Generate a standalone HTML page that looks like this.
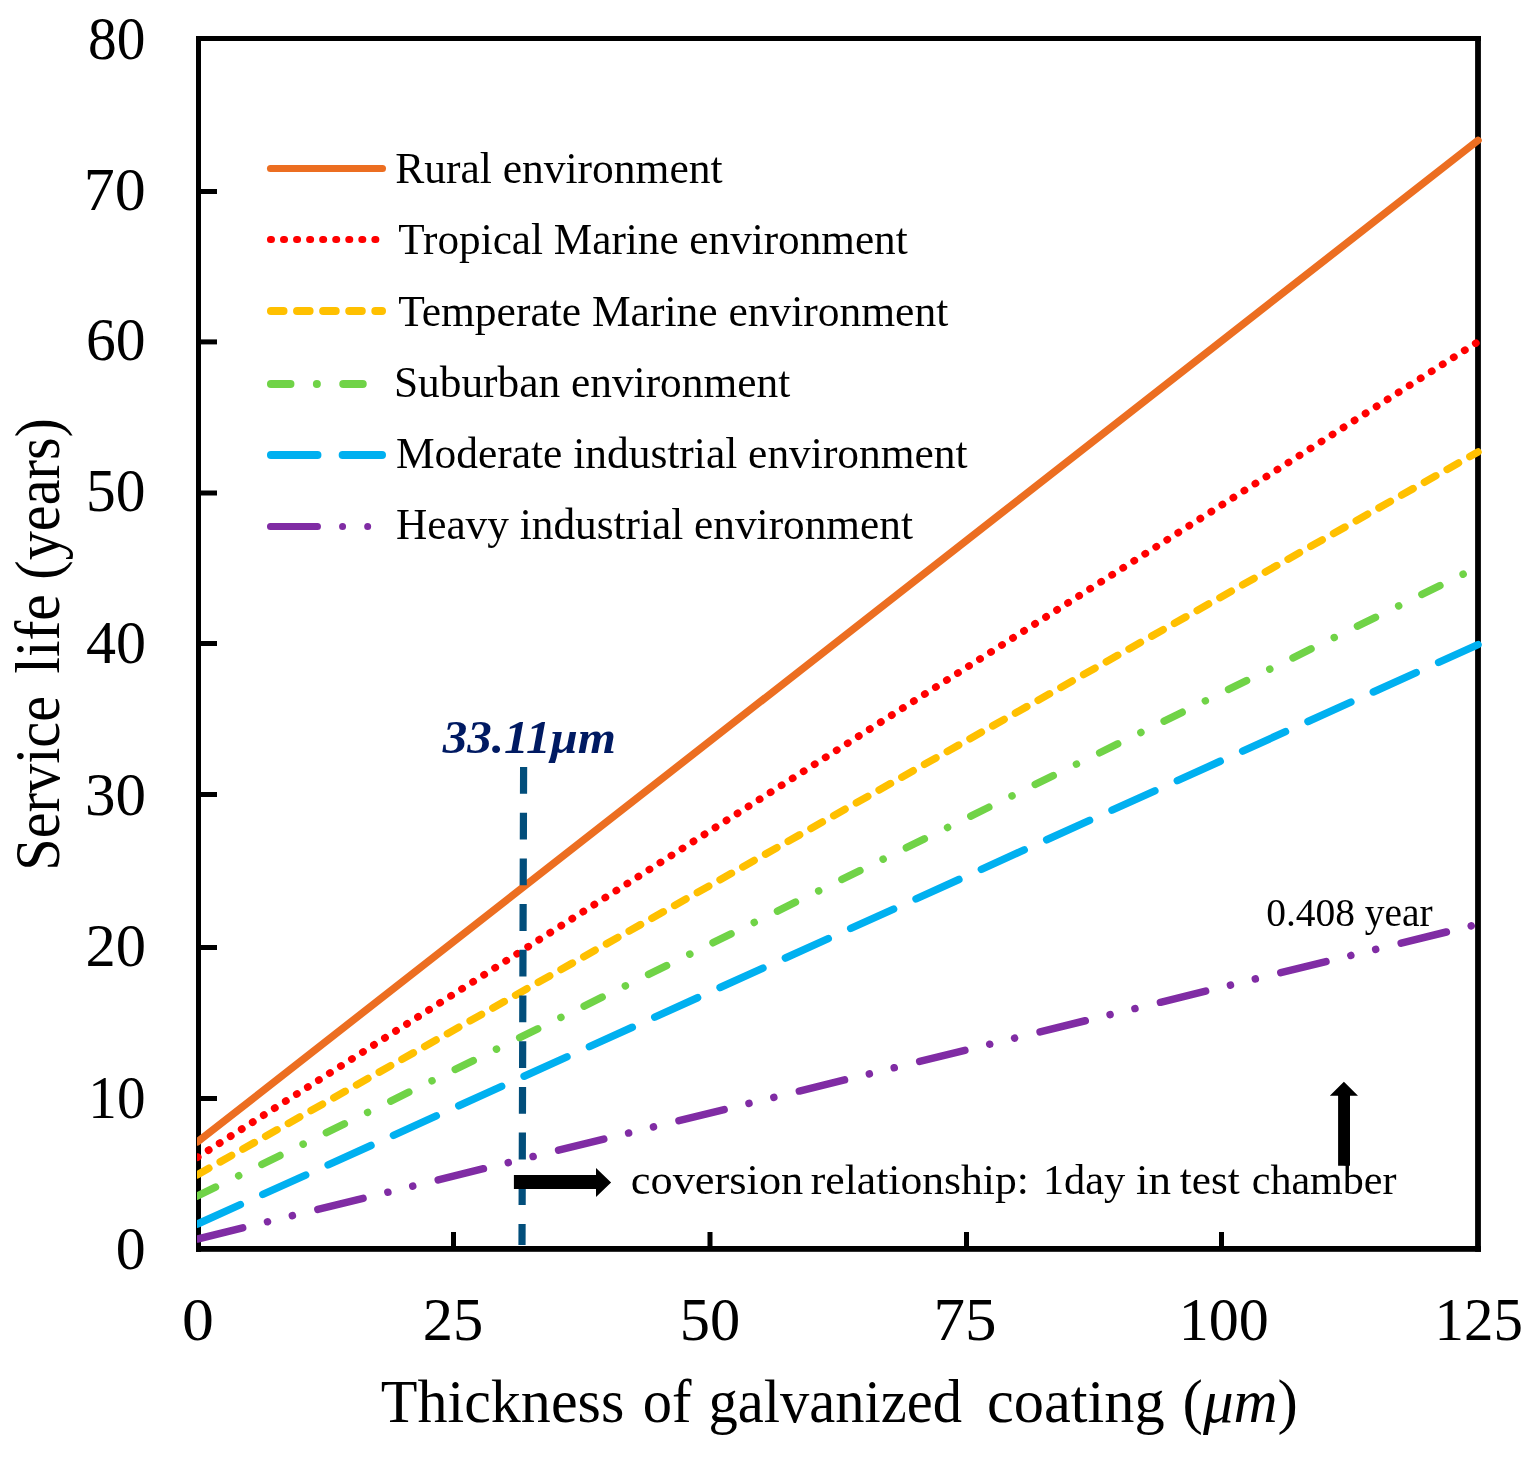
<!DOCTYPE html>
<html><head><meta charset="utf-8"><title>Service life vs galvanized coating thickness</title>
<style>html,body{margin:0;padding:0;background:#fff;}svg{display:block;}
text{font-family:'Liberation Serif','Times New Roman',serif;}</style></head><body>
<svg width="1532" height="1458" viewBox="0 0 1532 1458">
<rect x="0" y="0" width="1532" height="1458" fill="#fff"/>
<defs><clipPath id="pa"><rect x="197" y="0" width="1335" height="1458"/></clipPath></defs>
<g fill="#000">
<rect x="196" y="36" width="1285" height="5"/>
<rect x="196" y="1246" width="1285" height="5.8"/>
<rect x="196" y="36" width="5" height="1215.8"/>
<rect x="1475.1" y="36" width="5.8" height="1215.8"/>
<rect x="201" y="1096" width="16" height="5"/>
<rect x="201" y="945" width="16" height="5"/>
<rect x="201" y="792" width="16" height="5"/>
<rect x="201" y="641" width="16" height="5"/>
<rect x="201" y="490.5" width="16" height="5"/>
<rect x="201" y="339.4" width="16" height="5"/>
<rect x="201" y="189" width="16" height="5"/>
<rect x="451" y="1232" width="5" height="14"/>
<rect x="707.5" y="1232" width="5" height="14"/>
<rect x="964" y="1232" width="5" height="14"/>
<rect x="1219" y="1232" width="5" height="14"/>
</g>
<g clip-path="url(#pa)" fill="none" stroke-width="7.5" stroke-linecap="round" stroke-linejoin="round">
<path d="M197.5 1141.9L1478 140.4" stroke="#EC6E21"/>
<path d="M197.5 1157.3L1478 341.8" stroke="#FF0000" stroke-dasharray="0.4 12.663"/>
<path d="M197.5 1174.7L1478 452" stroke="#FFC000" stroke-dasharray="13.05 13.04"/>
<path d="M197.5 1196L1478 566.9" stroke="#70D347" stroke-dasharray="20 25.9 0.001 25.9"/>
<path d="M197.5 1224L1478 644.6" stroke="#00B0F0" stroke-dasharray="47 24.7"/>
<path d="M197.5 1239L1478 924.2" stroke="#802CA4" stroke-dasharray="46.5 25.6 0.001 25.6 0.001 26.25"/>
</g>
<g fill="none" stroke-linecap="round">
<path d="M270.46 168.4H382.5" stroke="#EC6E21" stroke-width="7.0"/>
<path d="M270.46 239.4H380" stroke="#FF0000" stroke-width="7.0" stroke-dasharray="1 12.05"/>
<path d="M270.96 310.9H382" stroke="#FFC000" stroke-width="8.0" stroke-dasharray="12.55 13.54"/>
<path d="M270.96 383.9H382" stroke="#70D347" stroke-width="8.0" stroke-dasharray="19.5 26.4 0.001 26.4"/>
<path d="M270.96 454.9H382" stroke="#00B0F0" stroke-width="8.0" stroke-dasharray="46.5 25.2"/>
<path d="M270.46 526.4H382.5" stroke="#802CA4" stroke-width="7.0" stroke-dasharray="47 25.1 0.001 25.1 0.001 25.75"/>
</g>
<path d="M523.6 767L522 1245" stroke="#024E7B" stroke-width="7.2" stroke-dasharray="26.8 18.9" fill="none"/>
<path d="M513.9 1175H596V1167.9L611.1 1182.6L596 1197.1V1188.9H513.9Z" fill="#000"/>
<path d="M1343.9 1081.7L1358 1095.8H1350V1165.8H1338.1V1095.8H1329.8Z" fill="#000"/>
<text transform="translate(88.03 58.6) scale(0.9328 1)" font-size="61.5" fill="#000">80</text>
<text transform="translate(83.67 209.5) scale(1.0071 1)" font-size="61.5" fill="#000">70</text>
<text transform="translate(85.96 360.3) scale(0.9690 1)" font-size="61.5" fill="#000">60</text>
<text transform="translate(85.99 511.4) scale(0.9684 1)" font-size="61.5" fill="#000">50</text>
<text transform="translate(85.92 663.4) scale(0.9763 1)" font-size="61.5" fill="#000">40</text>
<text transform="translate(84.92 814.5) scale(0.9930 1)" font-size="61.5" fill="#000">30</text>
<text transform="translate(85.43 966.4) scale(0.9845 1)" font-size="61.5" fill="#000">20</text>
<text transform="translate(88.35 1117.6) scale(0.9291 1)" font-size="61.5" fill="#000">10</text>
<text transform="translate(115.85 1269.2) scale(0.9741 1)" font-size="61.5" fill="#000">0</text>
<text transform="translate(181.93 1339.6) scale(1.0370 1)" font-size="61.5" fill="#000">0</text>
<text transform="translate(422.83 1339.6) scale(0.9842 1)" font-size="61.5" fill="#000">25</text>
<text transform="translate(679.85 1339.6) scale(0.9825 1)" font-size="61.5" fill="#000">50</text>
<text transform="translate(933.5 1339.6) scale(1.0255 1)" font-size="61.5" fill="#000">75</text>
<text transform="translate(1178.82 1339.6) scale(0.9765 1)" font-size="61.5" fill="#000">100</text>
<text transform="translate(1434.51 1339.6) scale(0.9588 1)" font-size="61.5" fill="#000">125</text>
<text transform="translate(395.22 183.3) scale(0.9819 1)" font-size="44.3" fill="#000">Rural environment</text>
<text transform="translate(398.2 254.45) scale(0.9753 1)" font-size="44.3" fill="#000">Tropical Marine environment</text>
<text transform="translate(398.2 325.6) scale(0.9820 1)" font-size="44.3" fill="#000">Temperate Marine environment</text>
<text transform="translate(393.96 396.75) scale(0.9791 1)" font-size="44.3" fill="#000">Suburban environment</text>
<text transform="translate(395.92 467.9) scale(0.9808 1)" font-size="44.3" fill="#000">Moderate industrial environment</text>
<text transform="translate(395.92 539.05) scale(0.9775 1)" font-size="44.3" fill="#000">Heavy industrial environment</text>
<text transform="translate(380.82 1422) scale(0.9844 1)" font-size="61" fill="#000">Thickness</text>
<text transform="translate(642.78 1422) scale(0.9592 1)" font-size="61" fill="#000">of</text>
<text transform="translate(708.58 1422) scale(0.9599 1)" font-size="61" fill="#000">galvanized</text>
<text transform="translate(986.92 1422) scale(0.9898 1)" font-size="61" fill="#000">coating</text>
<text transform="translate(1182.6 1422) scale(1.0000 1)" font-size="61" fill="#000">(<tspan font-style="italic">μm</tspan>)</text>
<text transform="translate(630.75 1193.9) scale(1.0491 1)" font-size="42.3" fill="#000">coversion</text>
<text transform="translate(810.77 1193.9) scale(1.0319 1)" font-size="42.3" fill="#000">relationship:</text>
<text transform="translate(1042.89 1193.9) scale(1.0025 1)" font-size="42.3" fill="#000">1day</text>
<text transform="translate(1135.94 1193.9) scale(1.0645 1)" font-size="42.3" fill="#000">in</text>
<text transform="translate(1179.8 1193.9) scale(1.0203 1)" font-size="42.3" fill="#000">test</text>
<text transform="translate(1251.71 1193.9) scale(0.9945 1)" font-size="42.3" fill="#000">chamber</text>
<text transform="translate(1266.21 925.7) scale(0.9869 1)" font-size="40" fill="#000">0.408 year</text>
<text transform="translate(442.74 753.1) scale(1.0442 1)" font-size="47" fill="#001A62" style="font-style:italic;font-weight:bold">33.11μm</text>
<text transform="translate(58.8 870.8) rotate(-90) scale(0.9262 1)" font-size="63" fill="#000">Service</text>
<text transform="translate(58.8 673.65) rotate(-90) scale(0.9469 1)" font-size="63" fill="#000">life</text>
<text transform="translate(58.8 579.65) rotate(-90) scale(0.9240 1)" font-size="63" fill="#000">(years)</text>
</svg></body></html>
